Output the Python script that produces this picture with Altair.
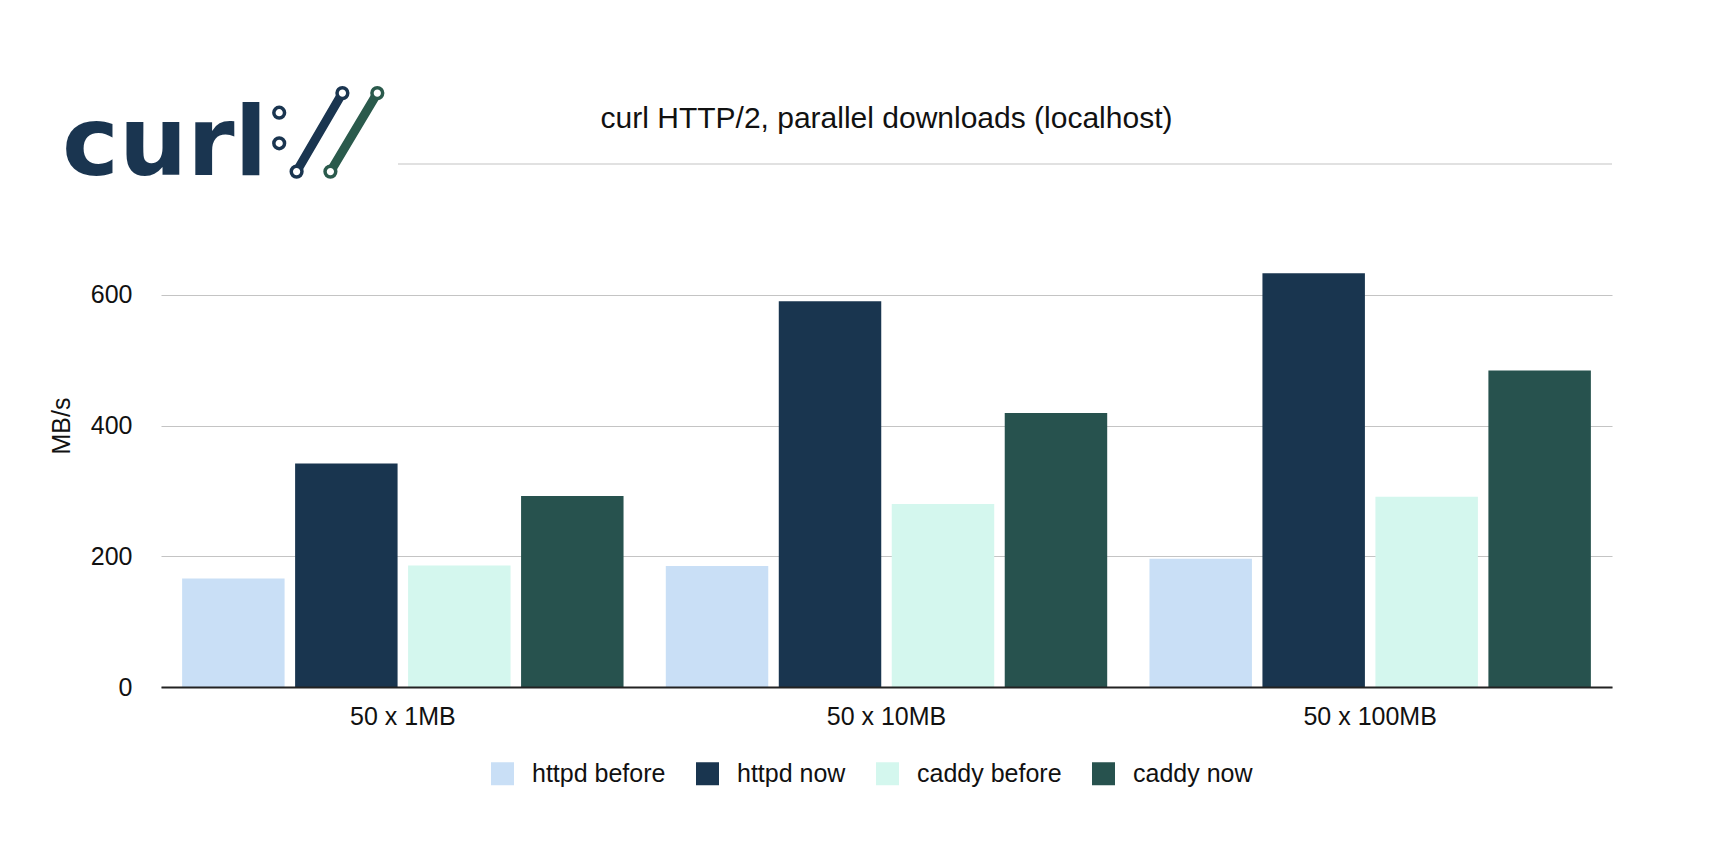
import altair as alt
import pandas as pd

sizes = ["50 x 1MB", "50 x 10MB", "50 x 100MB"]
series = ["httpd before", "httpd now", "caddy before", "caddy now"]
httpd_before = [166, 185, 196]
httpd_now = [342, 590, 633]
caddy_before = [186, 280, 291]
caddy_now = [292, 419, 484]
colors = ["#c9dff6", "#19354f", "#d4f7ee", "#27524e"]
y_ticks = [0, 200, 400, 600]
y_max = 800

rows = []
for name, vals in zip(series, [httpd_before, httpd_now, caddy_before, caddy_now]):
    for s, v in zip(sizes, vals):
        rows.append({"size": s, "series": name, "value": v})
df = pd.DataFrame(rows)

FONT = "Liberation Sans"
NAVY = "#1a3550"
GREEN = "#2a5a4c"
GRID = "#c4c4c4"

W, H = 1451, 523

bars = alt.Chart(df).mark_bar().encode(
    x=alt.X("size:N", sort=sizes, title=None,
            scale=alt.Scale(paddingInner=0, paddingOuter=0),
            axis=alt.Axis(labelAngle=0, labelFontSize=25, labelFont=FONT, labelColor="#111",
                          ticks=False, domainColor="#222", domainWidth=2, labelPadding=17,
                          zindex=1)),
    xOffset=alt.XOffset("series:N", sort=series,
                        scale=alt.Scale(paddingInner=0.093, paddingOuter=0.187)),
    y=alt.Y("value:Q", scale=alt.Scale(domain=[0, y_max], nice=False),
            axis=alt.Axis(values=y_ticks, title="MB/s", grid=True, gridColor=GRID, gridWidth=1.2,
                          domain=False, ticks=False, labelPadding=29, labelFontSize=25,
                          labelFont=FONT, labelColor="#111", titleFont=FONT, titleFontSize=25,
                          titleFontWeight="normal", titleColor="#111", titlePadding=16)),
    color=alt.Color("series:N", sort=series,
                    scale=alt.Scale(domain=series, range=colors),
                    legend=alt.Legend(orient="none", legendX=329, legendY=597, direction="horizontal",
                                      title=None, symbolType="square", symbolSize=529,
                                      symbolStrokeWidth=0, labelFontSize=25, labelFont=FONT,
                                      labelColor="#111", labelOffset=17, columnPadding=29,
                                      padding=0)),
)

one = pd.DataFrame({"k": [0]})

top_grid = alt.Chart(one).mark_rule(color=GRID, strokeWidth=1.2).encode(
    y=alt.datum(y_max), x=alt.value(237), x2=alt.value(W)
)

title = alt.Chart(one).mark_text(
    text="curl HTTP/2, parallel downloads (localhost)", font=FONT, fontSize=30,
    align="center", baseline="middle", color="#111"
).encode(x=alt.value(W / 2), y=alt.value(-45))

logo_text = alt.Chart(one).mark_text(
    text="curl", font="DejaVu Sans", fontWeight="bold", fontSize=96,
    align="left", baseline="alphabetic", color=NAVY
).encode(x=alt.value(-99), y=alt.value(11))

def slash(x1, y1, x2, y2, c):
    return alt.Chart(one).mark_rule(strokeWidth=9, strokeCap="round", color=c).encode(
        x=alt.value(x1), y=alt.value(y1), x2=alt.value(x2), y2=alt.value(y2))

def ring(x, y, c):
    return alt.Chart(one).mark_point(shape="circle", size=115, filled=False, fill="white",
                                     fillOpacity=1, stroke=c, strokeWidth=3.5, opacity=1).encode(
        x=alt.value(x), y=alt.value(y))

logo = [
    logo_text,
    slash(135.6, 7.6, 181.4, -70.9, NAVY),
    slash(169.4, 7.6, 216.3, -70.9, GREEN),
    ring(118.2, -51.3, NAVY), ring(118.2, -20.7, NAVY),
    ring(135.6, 7.6, NAVY), ring(181.4, -70.9, NAVY),
    ring(169.4, 7.6, GREEN), ring(216.3, -70.9, GREEN),
]

chart = alt.layer(top_grid, bars, title, *logo).properties(
    width=W, height=H,
    background="white",
    autosize=alt.AutoSizeParams(type="none"),
    padding={"left": 161, "top": 164, "right": 98, "bottom": 165},
).configure_view(stroke=None)

chart.save("out.html", embed_options={"renderer": "svg", "actions": False})
